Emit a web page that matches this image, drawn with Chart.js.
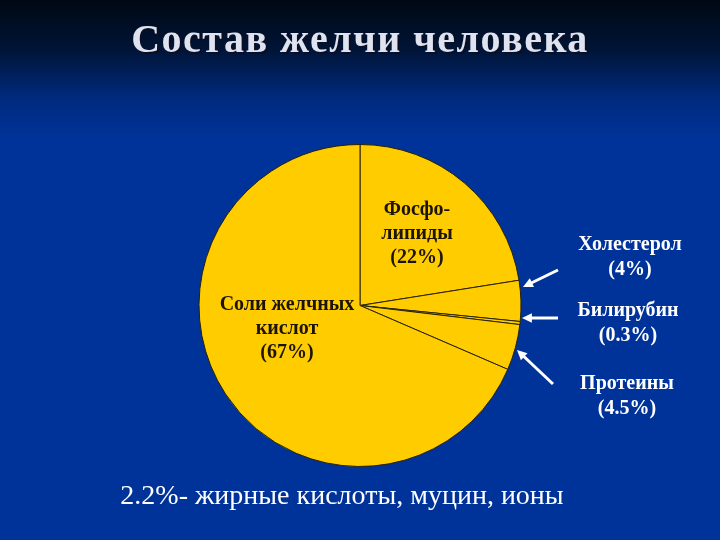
<!DOCTYPE html>
<html>
<head>
<meta charset="utf-8">
<script src="https://cdn.jsdelivr.net/npm/chart.js@4.4.0/dist/chart.umd.min.js"></script>
<style>
  html, body { margin: 0; padding: 0; background: #003399; }
  #wrap { width: 720px; height: 540px; }
</style>
</head>
<body>
<div id="wrap"><canvas id="bileChart" width="720" height="540"></canvas></div>
<script>
// slices, clockwise from 12 o'clock
const labels = ['Фосфолипиды', 'Холестерол', 'Билирубин', 'Протеины', 'Соли желчных кислот'];
const percents = [22, 4, 0.3, 4.5, 67];

const titleText = 'Состав желчи человека';
const footNote = '2.2%- жирные кислоты, муцин, ионы';

// text lines shown next to / inside the pie
const insideLabels = [
  { lines: ['Фосфо-', 'липиды', '(22%)'], x: 417, y: 210 },
  { lines: ['Соли желчных', 'кислот', '(67%)'], x: 287, y: 305 }
];
const outsideLabels = [
  { lines: ['Холестерол', '(4%)'], x: 630, y: 245 },
  { lines: ['Билирубин', '(0.3%)'], x: 628, y: 311 },
  { lines: ['Протеины', '(4.5%)'], x: 627, y: 384 }
];
const arrows = [
  [558, 270, 523, 287],
  [558, 318, 522, 318],
  [553, 384, 517, 350]
];

const slidePlugin = {
  id: 'slide',
  beforeDraw(chart) {
    const ctx = chart.ctx;
    const g = ctx.createLinearGradient(0, 0, 0, 140);
    g.addColorStop(0, '#000814');
    g.addColorStop(0.35, '#001436');
    g.addColorStop(0.7, '#002a7e');
    g.addColorStop(1, '#00339a');
    ctx.save();
    ctx.fillStyle = '#00339a';
    ctx.fillRect(0, 0, chart.width, chart.height);
    ctx.fillStyle = g;
    ctx.fillRect(0, 0, chart.width, 140);
    ctx.restore();
  },
  afterDraw(chart) {
    const ctx = chart.ctx;
    ctx.save();
    ctx.textAlign = 'center';
    ctx.textBaseline = 'middle';

    // title with shadow
    ctx.font = 'bold 40px "Liberation Serif", "Times New Roman", serif';
    ctx.letterSpacing = '1.5px';
    ctx.fillStyle = '#0a0f25';
    ctx.fillText(titleText, 362, 44);
    ctx.fillStyle = '#dfe3f0';
    ctx.fillText(titleText, 360, 42);
    ctx.letterSpacing = '0px';

    ctx.font = 'bold 20px "Liberation Serif", "Times New Roman", serif';
    ctx.fillStyle = '#1c1400';
    insideLabels.forEach(l => {
      l.lines.forEach((t, i) => ctx.fillText(t, l.x, l.y + i * 24));
    });

    ctx.fillStyle = '#ffffff';
    outsideLabels.forEach(l => {
      l.lines.forEach((t, i) => ctx.fillText(t, l.x, l.y + i * 25));
    });

    // arrows
    ctx.strokeStyle = '#ffffff';
    ctx.fillStyle = '#ffffff';
    ctx.lineWidth = 3;
    arrows.forEach(a => {
      const [x1, y1, x2, y2] = a;
      const ang = Math.atan2(y2 - y1, x2 - x1);
      const hx = x2 - 8 * Math.cos(ang), hy = y2 - 8 * Math.sin(ang);
      ctx.beginPath();
      ctx.moveTo(x1, y1);
      ctx.lineTo(hx, hy);
      ctx.stroke();
      ctx.beginPath();
      ctx.moveTo(x2, y2);
      ctx.lineTo(x2 - 11 * Math.cos(ang - 0.45), y2 - 11 * Math.sin(ang - 0.45));
      ctx.lineTo(x2 - 11 * Math.cos(ang + 0.45), y2 - 11 * Math.sin(ang + 0.45));
      ctx.closePath();
      ctx.fill();
    });

    ctx.font = '28px "Liberation Serif", "Times New Roman", serif';
    ctx.fillStyle = '#ffffff';
    ctx.fillText(footNote, 342, 497);
    ctx.restore();
  }
};

const ctx = document.getElementById('bileChart').getContext('2d');
new Chart(ctx, {
  type: 'pie',
  data: {
    labels: labels,
    datasets: [{
      data: percents,
      backgroundColor: '#ffcc00',
      borderColor: '#2a2200',
      borderWidth: 1
    }]
  },
  options: {
    responsive: false,
    animation: false,
    layout: { padding: { top: 144, bottom: 73, left: 0, right: 0 } },
    plugins: {
      legend: { display: false },
      tooltip: { enabled: false }
    }
  },
  plugins: [slidePlugin]
});
</script>
</body>
</html>
